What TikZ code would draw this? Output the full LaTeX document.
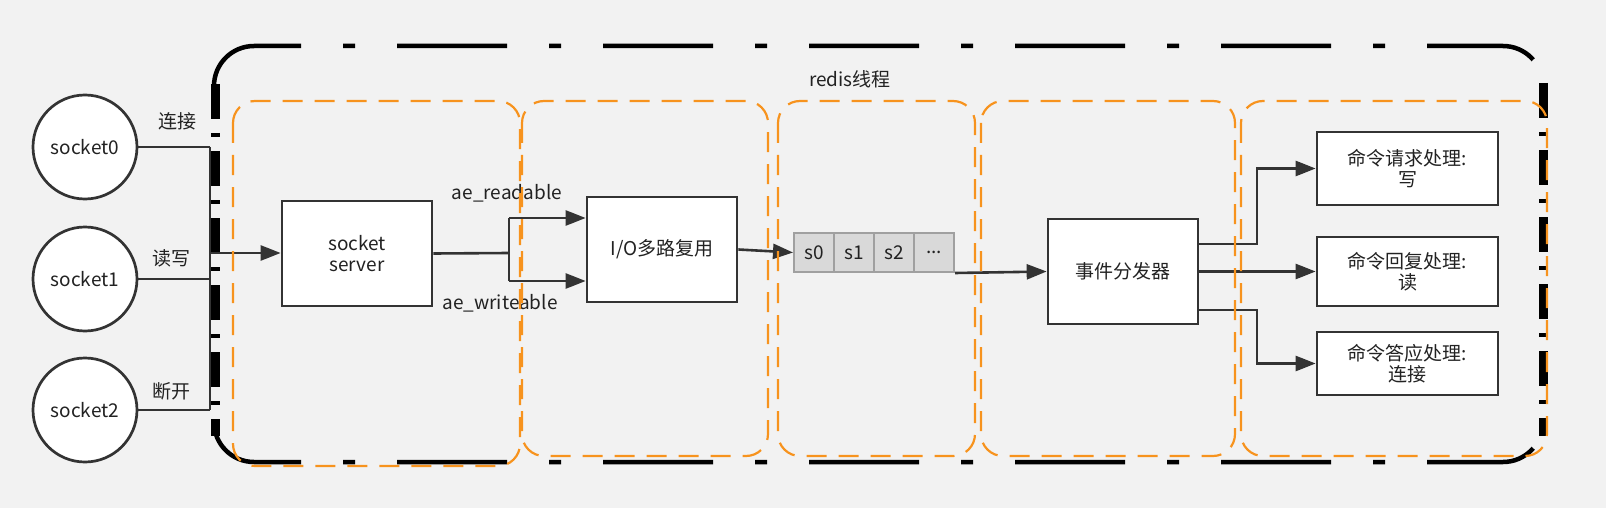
\documentclass[tikz,border=0pt]{standalone}
\usepackage{fontspec}
\newfontfamily\cjk{Noto Sans CJK SC}
\usepackage{xcolor}
\usepackage{tikz}
\usetikzlibrary{arrows.meta}
\definecolor{bg}{HTML}{F2F2F2}
\definecolor{ink}{HTML}{333333}
\definecolor{txt}{HTML}{222222}
\definecolor{zoneor}{HTML}{F7931E}
\definecolor{cellgray}{HTML}{D9D9D9}
\definecolor{cellline}{HTML}{A0A0A0}
\newcommand{\labfont}{\cjk\fontsize{19}{24}\selectfont}
\newcommand{\qdots}{...}
\tikzset{
  frame/.style={draw=black, line width=4.5pt, rounded corners=40pt,
    dash pattern=on 110pt off 42pt on 12pt off 42pt},
  frameside/.style={draw=black, line width=9pt,
    dash pattern=on 35pt off 14pt on 4pt off 14pt},
  zone/.style={draw=zoneor, line width=2.2pt, rounded corners=22pt,
    dash pattern=on 20pt off 12pt},
  sock/.style={circle, draw=ink, line width=2.7pt, fill=white,
    minimum size=104pt, inner sep=0pt, text=txt, font=\labfont},
  box/.style={rectangle, draw=ink, line width=2.7pt, fill=white,
    minimum width=150pt, minimum height=105pt, inner sep=0pt,
    text=txt, font=\labfont, align=center},
  obox/.style={box, minimum width=181pt},
  cell/.style={rectangle, draw=cellline, line width=2pt, fill=cellgray,
    minimum width=40pt, minimum height=39pt, inner sep=0pt,
    text=txt, font=\labfont},
  conn/.style={draw=ink, line width=2.6pt},
  bus/.style={draw=ink, line width=2pt},
  arr/.style={conn, -{Triangle[length=20pt,width=15pt]}},
  lab/.style={text=txt, font=\labfont},
}

\begin{document}
\begin{tikzpicture}[x=1pt, y=-1pt]
  \fill[bg] (0,0) rectangle (1606,508);
  \useasboundingbox (0,0) rectangle (1606,508);

  % redis thread frame
  \draw[frame] (214,86) -- (214,46) -- (1543,46) -- (1543,86);
  \draw[frame] (214,422) -- (214,462) -- (1543,462) -- (1543,422);
  \draw[frameside] (215,84) -- (215,436);
  \draw[frameside] (1543,83) -- (1543,436);
  \node[lab] (title) at (850,79) {redis线程};

  % sockets
  \foreach \i/\y in {0/147,1/279,2/410}{
    \node[sock] (sock\i) at (85,\y) {socket\i};
  }
  \node[lab] (lconn) at (177,121) {连接};
  \node[lab] (lrw)   at (171,258) {读写};
  \node[lab] (lcut)  at (171,391) {断开};

  \node[box] (srv) at (357,253.5) {socket\\[-3pt]server};
  \node[box] (io)  at (662,249.5) {I/O多路复用};

  % event queue
  \foreach \t [count=\k] in {s0,s1,s2,\qdots}{
    \node[cell] (q\k) at (774+40*\k,252.5) {\t};
  }

  \node[box] (disp) at (1123,271.5) {事件分发器};
  \node[obox, minimum height=73pt] (h1) at (1407.5,168.5) {命令请求处理:\\[-3pt]写};
  \node[obox, minimum height=69pt] (h2) at (1407.5,271.5) {命令回复处理:\\[-3pt]读};
  \node[obox, minimum height=63pt] (h3) at (1407.5,363.5) {命令答应处理:\\[-3pt]连接};

  % socket bus
  \coordinate (busin) at (210,253);
  \foreach \i in {0,1,2}{
    \draw[conn] (sock\i.east) -- (sock\i.east -| busin);
  }
  \draw[bus] (sock0.east -| busin) -- (sock2.east -| busin);
  \draw[arr] (busin) -- (busin -| srv.west);

  % readable / writeable fork
  \coordinate (fork) at (509,253);
  \coordinate (rd) at (509,218);
  \coordinate (wr) at (509,281);
  \draw[conn] (srv.east) -- (fork);
  \draw[conn] (rd) -- (wr);
  \draw[arr] (rd) -- (rd -| io.west);
  \draw[arr] (wr) -- (wr -| io.west);
  \node[lab] (lrd) at (507,193) {ae\_readable};
  \node[lab] (lwr) at (500,303) {ae\_writeable};

  \draw[arr] (io.east) -- (q1.west);
  \draw[arr] (q4.south east) -- (disp.west);

  % dispatch
  \coordinate (j1) at (1257,244);
  \coordinate (j3) at (1257,310);
  \draw[arr] (disp.east |- j1) -- (j1) |- (h1.west);
  \draw[arr] (disp.east) -- (h2.west);
  \draw[arr] (disp.east |- j3) -- (j3) |- (h3.west);

  % stage zones
  \foreach \xa/\xb/\yb in {233/520/466,522/768/456,778/975/456,981/1235/456,1241/1547/456}{
    \draw[zone] (\xa,101) rectangle (\xb,\yb);
  }
\end{tikzpicture}
\end{document}
